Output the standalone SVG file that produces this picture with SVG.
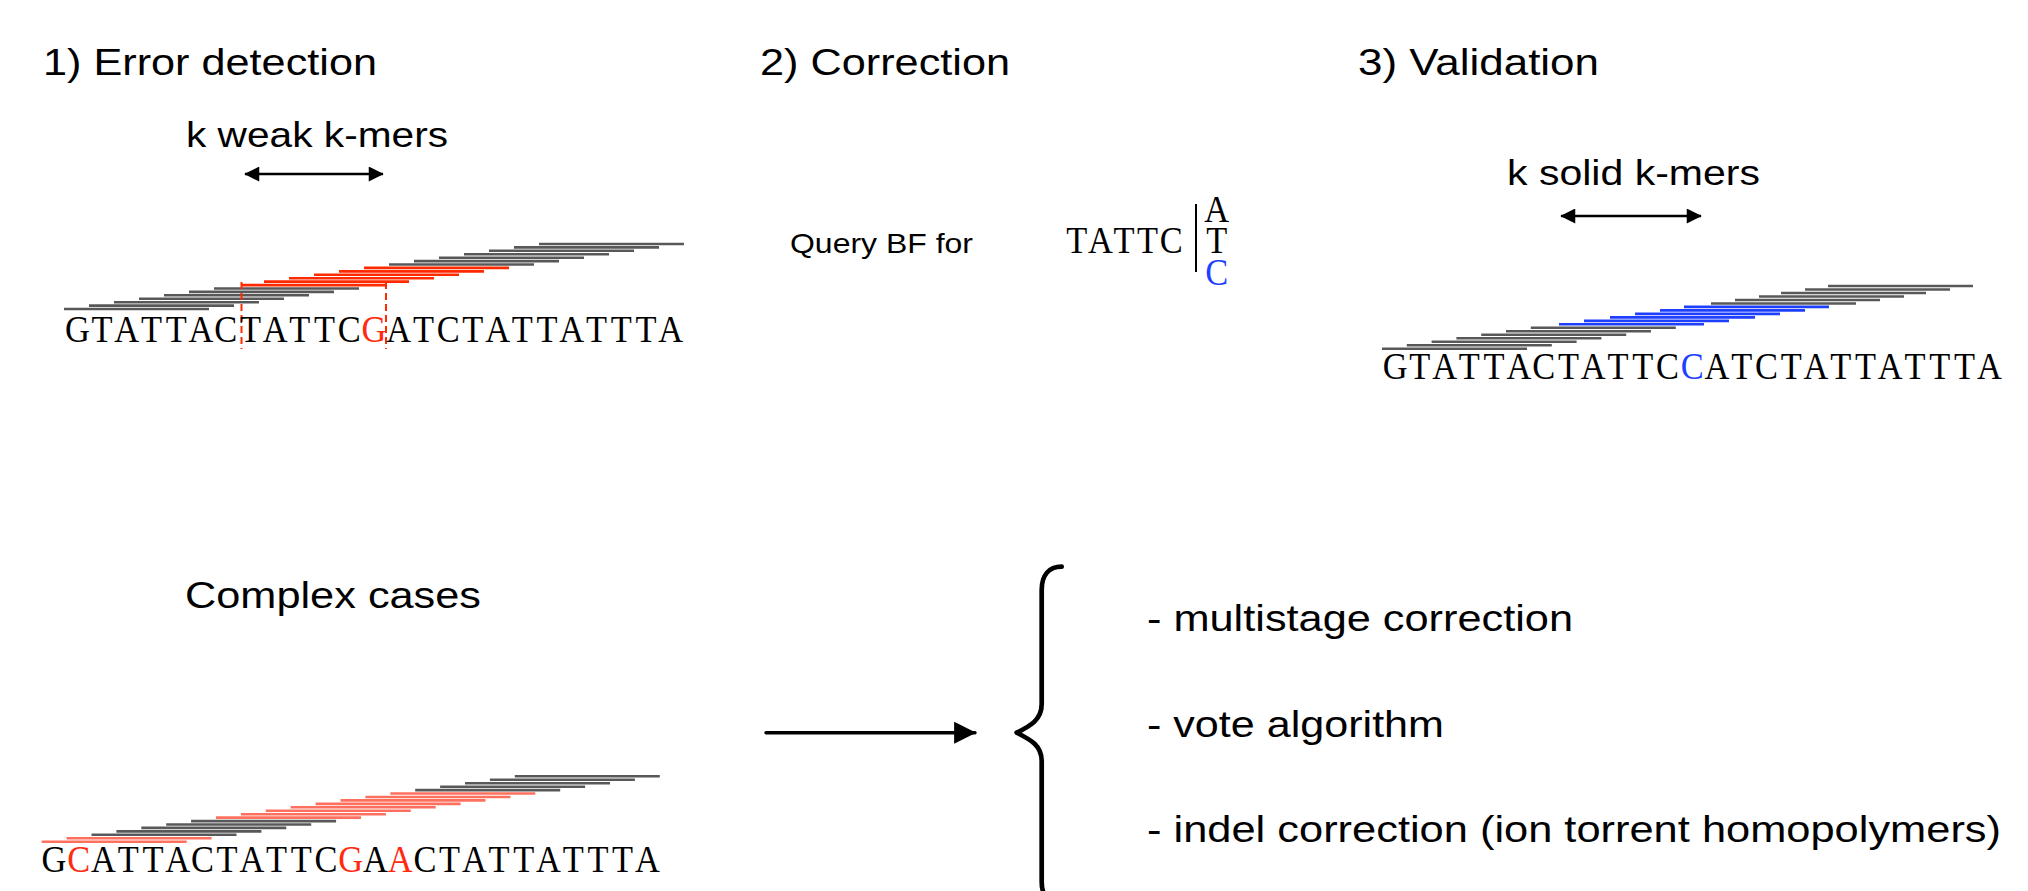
<svg xmlns="http://www.w3.org/2000/svg" width="2028" height="891" viewBox="0 0 2028 891">
  <defs>
    <style>
      .sans { font-family: "Liberation Sans", Arial, sans-serif; fill: #000; }
      .seq { font-family: "Liberation Serif", "Times New Roman", serif; fill: #000; font-size: 37px; text-anchor: middle; }
      .title { font-size: 37px; }
      .label { font-size: 35px; }
      .small { font-size: 28px; }
      .kmer { stroke: #585858; stroke-width: 2.6; fill: none; }
      .weak { stroke: #ff2a00; }
      .solid { stroke: #1f3fff; }
      .err { stroke: #ff6f5e; }
      .red { fill: #ff2a10; }
      .blue { fill: #1f3fff; }
      .guide { stroke: #ff2a00; stroke-width: 2; stroke-dasharray: 7 4; fill: none; }
      .conn { stroke: #000; stroke-width: 2.6; fill: none; }
    </style>
    <marker id="headBig" viewBox="0 0 10 10" refX="9.5" refY="5" markerWidth="32" markerHeight="22" markerUnits="userSpaceOnUse" orient="auto">
      <path d="M0,0 L10,5 L0,10 z" fill="#000"/>
    </marker>
    <marker id="headMid" viewBox="0 0 10 10" refX="9.5" refY="5" markerWidth="22" markerHeight="15" markerUnits="userSpaceOnUse" orient="auto-start-reverse">
      <path d="M0,0 L10,5 L0,10 z" fill="#000"/>
    </marker>
  </defs>
  <rect width="2028" height="891" fill="#fff"/>

  <!-- 1) error detection -->
  <g id="step1">
    <text class="sans title" x="43" y="75" textLength="334" lengthAdjust="spacingAndGlyphs">1) Error detection</text>
    <text class="sans label" x="186" y="147" textLength="262" lengthAdjust="spacingAndGlyphs">k weak k-mers</text>
    <g id="step1-kmers">
      <line class="kmer" x1="64" y1="309" x2="209" y2="309"/>
      <line class="kmer" x1="89" y1="305.6" x2="234" y2="305.6"/>
      <line class="kmer" x1="114" y1="302.2" x2="259" y2="302.2"/>
      <line class="kmer" x1="139" y1="298.7" x2="284" y2="298.7"/>
      <line class="kmer" x1="164" y1="295.3" x2="309" y2="295.3"/>
      <line class="kmer" x1="189" y1="291.9" x2="334" y2="291.9"/>
      <line class="kmer" x1="214" y1="288.5" x2="359" y2="288.5"/>
      <line class="kmer weak" x1="241" y1="285.1" x2="386" y2="285.1"/>
      <line class="kmer weak" x1="264" y1="281.6" x2="409" y2="281.6"/>
      <line class="kmer weak" x1="289" y1="278.2" x2="434" y2="278.2"/>
      <line class="kmer weak" x1="314" y1="274.8" x2="459" y2="274.8"/>
      <line class="kmer weak" x1="339" y1="271.4" x2="484" y2="271.4"/>
      <line class="kmer weak" x1="364" y1="267.9" x2="509" y2="267.9"/>
      <line class="kmer" x1="389" y1="264.5" x2="534" y2="264.5"/>
      <line class="kmer" x1="414" y1="261.1" x2="559" y2="261.1"/>
      <line class="kmer" x1="439" y1="257.7" x2="584" y2="257.7"/>
      <line class="kmer" x1="464" y1="254.3" x2="609" y2="254.3"/>
      <line class="kmer" x1="489" y1="250.8" x2="634" y2="250.8"/>
      <line class="kmer" x1="514" y1="247.4" x2="659" y2="247.4"/>
      <line class="kmer" x1="539" y1="244" x2="684" y2="244"/>
    </g>
    <line class="guide" x1="241.5" y1="282" x2="241.5" y2="349"/>
    <line class="guide" x1="386" y1="282" x2="386" y2="349"/>
    <!-- one glyph per fixed-width cell, glyphs narrowed to the cell -->
    <text class="seq" transform="matrix(0.93 0 0 1 0 0)" y="341.7" x="83.18 109.76 136.34 162.92 189.50 216.09 242.67 269.25 295.83 322.41 348.99 375.57 402.15 428.73 455.31 481.90 508.48 535.06 561.64 588.22 614.80 641.38 667.96 694.54 721.12">GTATTACTATTC<tspan class="red">G</tspan>ATCTATTATTTA</text>
  </g>

  <!-- 2) correction -->
  <g id="step2">
    <text class="sans title" x="760" y="75" textLength="250" lengthAdjust="spacingAndGlyphs">2) Correction</text>
    <text class="sans small" x="790" y="253.3" textLength="183" lengthAdjust="spacingAndGlyphs">Query BF for</text>
    <text class="seq" transform="matrix(0.93 0 0 1 0 0)" y="253.3" x="1157.85 1183.23 1208.60 1233.98 1259.35">TATTC</text>
    <line x1="1196" y1="204" x2="1196" y2="272" stroke="#000" stroke-width="2"/>
    <text class="seq" transform="matrix(0.93 0 0 1 0 0)" x="1308.39" y="222">A</text>
    <text class="seq" transform="matrix(0.93 0 0 1 0 0)" x="1308.39" y="253.3">T</text>
    <text class="seq blue" transform="matrix(0.93 0 0 1 0 0)" x="1308.39" y="285">C</text>
  </g>

  <!-- 3) validation -->
  <g id="step3">
    <text class="sans title" x="1358" y="75" textLength="241" lengthAdjust="spacingAndGlyphs">3) Validation</text>
    <text class="sans label" x="1507" y="185" textLength="253" lengthAdjust="spacingAndGlyphs">k solid k-mers</text>
    <g id="step3-kmers">
      <line class="kmer" x1="1382" y1="348.7" x2="1527" y2="348.7"/>
      <line class="kmer" x1="1406.8" y1="345.2" x2="1551.8" y2="345.2"/>
      <line class="kmer" x1="1431.6" y1="341.7" x2="1576.6" y2="341.7"/>
      <line class="kmer" x1="1456.4" y1="338.3" x2="1601.4" y2="338.3"/>
      <line class="kmer" x1="1481.2" y1="334.8" x2="1626.2" y2="334.8"/>
      <line class="kmer" x1="1506" y1="331.3" x2="1651" y2="331.3"/>
      <line class="kmer" x1="1530.8" y1="327.8" x2="1675.8" y2="327.8"/>
      <line class="kmer solid" x1="1559" y1="324.3" x2="1704" y2="324.3"/>
      <line class="kmer solid" x1="1584" y1="320.9" x2="1729" y2="320.9"/>
      <line class="kmer solid" x1="1610" y1="317.4" x2="1755" y2="317.4"/>
      <line class="kmer solid" x1="1635" y1="313.9" x2="1780" y2="313.9"/>
      <line class="kmer solid" x1="1660" y1="310.4" x2="1805" y2="310.4"/>
      <line class="kmer solid" x1="1684" y1="306.9" x2="1829" y2="306.9"/>
      <line class="kmer" x1="1711" y1="303.5" x2="1856" y2="303.5"/>
      <line class="kmer" x1="1735" y1="300" x2="1880" y2="300"/>
      <line class="kmer" x1="1759" y1="296.5" x2="1904" y2="296.5"/>
      <line class="kmer" x1="1781" y1="293" x2="1926" y2="293"/>
      <line class="kmer" x1="1805" y1="289.5" x2="1950" y2="289.5"/>
      <line class="kmer" x1="1828" y1="286" x2="1973" y2="286"/>
    </g>
    <text class="seq" transform="matrix(0.93 0 0 1 0 0)" y="379.3" x="1500.09 1526.71 1553.34 1579.96 1606.59 1633.21 1659.83 1686.46 1713.08 1739.71 1766.33 1792.95 1819.58 1846.20 1872.83 1899.45 1926.07 1952.70 1979.32 2005.95 2032.57 2059.19 2085.82 2112.44 2139.07">GTATTACTATTC<tspan class="blue">C</tspan>ATCTATTATTTA</text>
  </g>

  <!-- complex cases -->
  <g id="complex">
    <text class="sans title" x="185" y="608" textLength="296" lengthAdjust="spacingAndGlyphs">Complex cases</text>
    <g id="complex-kmers">
      <line class="kmer err" x1="41.7" y1="841.7" x2="186.7" y2="841.7"/>
      <line class="kmer err" x1="66.6" y1="838.3" x2="211.6" y2="838.3"/>
      <line class="kmer" x1="91.5" y1="834.8" x2="236.5" y2="834.8"/>
      <line class="kmer" x1="116.4" y1="831.4" x2="261.4" y2="831.4"/>
      <line class="kmer" x1="141.3" y1="827.9" x2="286.3" y2="827.9"/>
      <line class="kmer" x1="166.2" y1="824.5" x2="311.2" y2="824.5"/>
      <line class="kmer" x1="191.1" y1="821.1" x2="336.1" y2="821.1"/>
      <line class="kmer err" x1="216" y1="817.6" x2="361" y2="817.6"/>
      <line class="kmer err" x1="240.9" y1="814.2" x2="385.9" y2="814.2"/>
      <line class="kmer err" x1="265.8" y1="810.7" x2="410.8" y2="810.7"/>
      <line class="kmer err" x1="290.7" y1="807.3" x2="435.7" y2="807.3"/>
      <line class="kmer err" x1="315.6" y1="803.9" x2="460.6" y2="803.9"/>
      <line class="kmer err" x1="340.5" y1="800.4" x2="485.5" y2="800.4"/>
      <line class="kmer err" x1="365.4" y1="797" x2="510.4" y2="797"/>
      <line class="kmer err" x1="390.3" y1="793.5" x2="535.3" y2="793.5"/>
      <line class="kmer" x1="415.2" y1="790.1" x2="560.2" y2="790.1"/>
      <line class="kmer" x1="440.1" y1="786.7" x2="585.1" y2="786.7"/>
      <line class="kmer" x1="465" y1="783.2" x2="610" y2="783.2"/>
      <line class="kmer" x1="489.9" y1="779.8" x2="634.9" y2="779.8"/>
      <line class="kmer" x1="514.8" y1="776.3" x2="659.8" y2="776.3"/>
    </g>
    <text class="seq" transform="matrix(0.93 0 0 1 0 0)" y="871.7" x="58.13 84.71 111.29 137.87 164.45 191.04 217.62 244.20 270.78 297.36 323.94 350.52 377.10 403.68 430.26 456.85 483.43 510.01 536.59 563.17 589.75 616.33 642.91 669.49 696.07">G<tspan class="red">C</tspan>ATTACTATTC<tspan class="red">G</tspan>A<tspan class="red">A</tspan>CTATTATTTA</text>
  </g>

  <!-- strategies list -->
  <g id="strategies">
    <path d="M1061.7,566.7 C1049,566.7 1041.7,575 1041.7,590 L1041.7,704 C1041.7,720 1030,726 1016.7,732.7 C1030,739.5 1041.7,745 1041.7,761 L1041.7,882 C1041.7,896 1049,904 1062,904" fill="none" stroke="#000" stroke-width="4.7" stroke-linecap="round" stroke-linejoin="round"/>
    <text class="sans title" x="1147" y="631" textLength="426" lengthAdjust="spacingAndGlyphs">- multistage correction</text>
    <text class="sans title" x="1147" y="737" textLength="297" lengthAdjust="spacingAndGlyphs">- vote algorithm</text>
    <text class="sans title" x="1147" y="842" textLength="854" lengthAdjust="spacingAndGlyphs">- indel correction (ion torrent homopolymers)</text>
  </g>

  <!-- connectors -->
  <g id="connectors">
    <line class="conn" x1="245" y1="174" x2="383" y2="174" marker-start="url(#headMid)" marker-end="url(#headMid)"/>
    <line class="conn" x1="1561" y1="216" x2="1701" y2="216" marker-start="url(#headMid)" marker-end="url(#headMid)"/>
    <line x1="766" y1="732.7" x2="975" y2="732.7" stroke="#000" stroke-width="3.4" stroke-linecap="round" marker-end="url(#headBig)"/>
  </g>
</svg>
